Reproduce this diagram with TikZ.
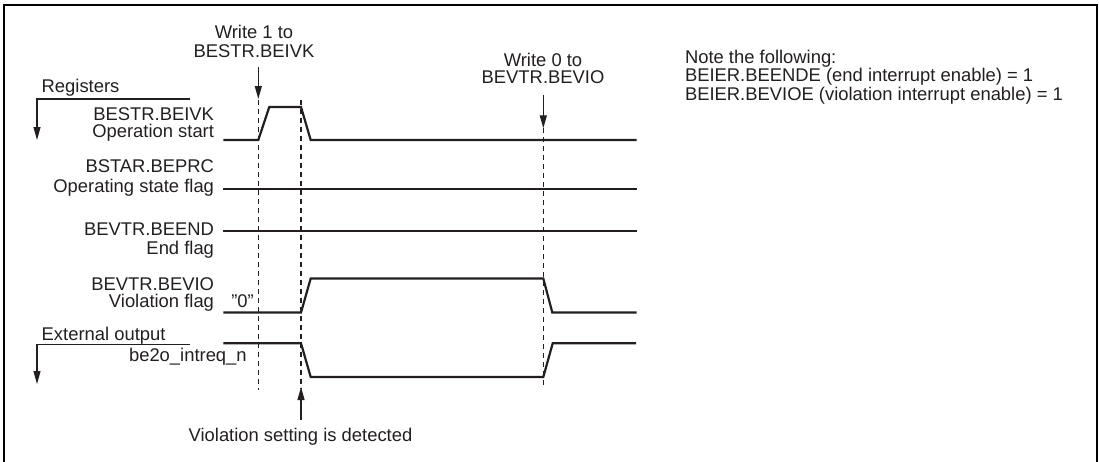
\documentclass[tikz,border=0pt]{standalone}
\usepackage{fontspec}
\setmainfont{Liberation Sans}
\usetikzlibrary{arrows.meta}
\definecolor{ink}{HTML}{231F20}
\begin{document}
\begin{tikzpicture}[x=1pt,y=-1pt,
  txt/.style={inner sep=0pt, outer sep=0pt, font=\fontsize{18.4}{18.4}\selectfont, text=ink},
  wave/.style={line width=2.2pt, draw=ink, line join=miter},
  guide/.style={line width=1.3pt, draw=ink, dash pattern=on 5pt off 4pt},
  arr/.style={line width=1.3pt, draw=ink, -{Triangle[length=13pt,width=7pt]}},
  bracket/.style={line width=1.2pt, draw=ink, -{Triangle[length=13pt,width=7pt]}},
  frameline/.style={line width=2pt, draw=black},
]
\useasboundingbox (0,0) rectangle (1099,461);
\draw[frameline] (4,470) -- (4,5) -- (1096.5,5) -- (1096.5,470);

% top annotations
\node[txt, anchor=base] (w1a) at (254,38.5) {Write 1 to};
\node[txt, anchor=base] (w1b) at (254,57) {BESTR.BEIVK};
\node[txt, anchor=base] (w0a) at (543,66) {Write 0 to};
\node[txt, anchor=base] (w0b) at (543,83.3) {BEVTR.BEVIO};

\node[txt, anchor=base west] (n1) at (685,63.3) {Note the following:};
\node[txt, anchor=base west] (n2) at (685,81.7) {BEIER.BEENDE (end interrupt enable) = 1};
\node[txt, anchor=base west] (n3) at (685,100) {BEIER.BEVIOE (violation interrupt enable) = 1};

% group labels
\node[txt, anchor=base west] (reg) at (41.7,92) {Registers};
\coordinate (regR) at (190,99);
\coordinate (regL) at (37,99);
\coordinate (regD) at (37,140);
\draw[bracket] (regR) -- (regL) -- (regD);

\node[txt, anchor=base west] (ext) at (41.7,340) {External output};
\coordinate (extR) at (190,344.3);
\coordinate (extL) at (37,344.3);
\coordinate (extD) at (37,384);
\draw[bracket] (extR) -- (extL) -- (extD);

% signal labels
\node[txt, anchor=base east] (s1a) at (214,120) {BESTR.BEIVK};
\node[txt, anchor=base east] (s1b) at (214,137.2) {Operation start};
\node[txt, anchor=base east] (s2a) at (214,172.7) {BSTAR.BEPRC};
\node[txt, anchor=base east] (s2b) at (214,192.3) {Operating state flag};
\node[txt, anchor=base east] (s3a) at (214,235) {BEVTR.BEEND};
\node[txt, anchor=base east] (s3b) at (214,254) {End flag};
\node[txt, anchor=base east] (s4a) at (214,290.7) {BEVTR.BEVIO};
\node[txt, anchor=base east] (s4b) at (214,307.3) {Violation flag};
\node[txt, anchor=base] (zero) at (242.5,307.3) {\symbol{34}0\symbol{34}};
\node[txt, anchor=base east] (s5) at (246.7,361) {be2o\_intreq\_n};

% guide lines
\draw[guide] (258.3,100) -- (258.3,390);
\draw[guide] (301,99.5) -- (301,388);
\draw[guide] (543.3,128.3) -- (543.3,385);

% waveforms
\draw[wave] (223.3,140) -- (258.3,140) -- (269.3,107) -- (301,107) -- (310.7,140) -- (636.7,140);
\draw[wave] (223.3,189.3) -- (636.7,189.3);
\draw[wave] (223.3,231) -- (636.7,231);
\draw[wave] (223.3,312.5) -- (301,312.5) -- (310.7,278.5) -- (543.3,278.5) -- (552.3,312.5) -- (636.7,312.5);
\draw[wave] (223.3,343.3) -- (301,343.3) -- (310.7,377) -- (543.3,377) -- (552.7,343.3) -- (636,343.3);

% event arrows
\coordinate (a1s) at (258.3,67);
\coordinate (a1e) at (258.3,99);
\draw[arr] (a1s) -- (a1e);
\coordinate (a3s) at (543.3,95);
\coordinate (a3e) at (543.3,128.3);
\draw[arr] (a3s) -- (a3e);
\coordinate (a2s) at (301,419.5);
\coordinate (a2e) at (301,387);
\draw[arr] (a2s) -- (a2e);

\node[txt, anchor=base] (det) at (300.5,441.7) {Violation setting is detected};
\end{tikzpicture}
\end{document}
